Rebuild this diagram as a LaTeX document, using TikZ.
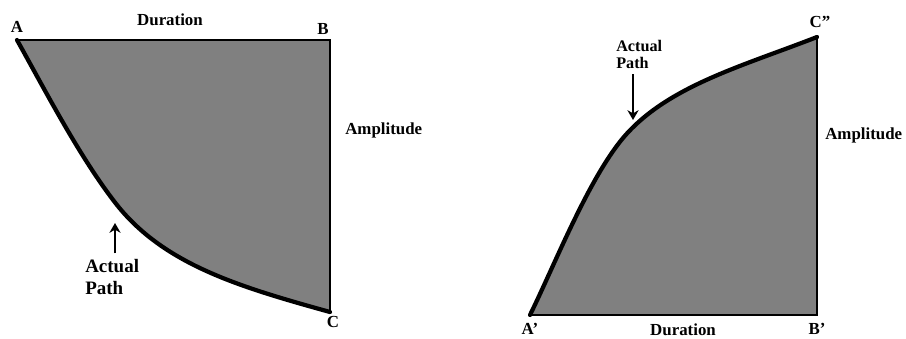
\documentclass[tikz,border=0pt]{standalone}
\usepackage{fontspec}
\setmainfont{Liberation Serif}
\usetikzlibrary{arrows.meta, positioning}

\begin{document}
\begin{tikzpicture}[
        x=0.025cm, y=-0.025cm,
        region/.style={fill=black!50, draw=none},
        sideline/.style={line width=2pt, line join=miter},
        pathline/.style={line width=3pt, line cap=round, line join=round},
        lbl/.style={font=\bfseries\fontsize{12}{13}\selectfont, inner sep=0pt},
        note/.style={font=\bfseries\fontsize{13.5}{15.6}\selectfont, inner sep=0pt, align=left},
        arr/.style={-{Stealth[length=7pt, width=8pt]}, line width=1pt}
    ]
    \useasboundingbox (0,0) rectangle (906,338);

    % Left plot
    \coordinate (A) at (17,40);
    \coordinate (B) at (330,40);
    \coordinate (C) at (330,312);
    \coordinate (M) at (117,205);
    \fill[region] (A) -- (B) -- (C) .. controls (240,287) and (165,265) .. (M)
        .. controls (80,158) and (45,90) .. (A) -- cycle;
    \draw[sideline] (A) -- (B) -- (C);
    \draw[pathline] (A) .. controls (45,90) and (80,158) .. (M)
        .. controls (165,265) and (240,287) .. (C);

    \node[lbl] (labA) at (17,27) {A};
    \node[lbl] (labB) at (323,29) {B};
    \node[lbl] (labC) at (333,322) {C};
    \node[lbl] (dur1) at (170,20) {Duration};
    \node[lbl, anchor=west] (amp1) at (345,130) {Amplitude};
    \node[note, anchor=north west] (act1) at (85,259) {Actual\\Path};
    \coordinate (tip1) at (115,223);
    \draw[arr, shorten <=4pt] (act1.north -| tip1) -- (tip1);

    % Right plot
    \coordinate (A2) at (530,315);
    \coordinate (B2) at (817,315);
    \coordinate (C2) at (817,37);
    \coordinate (M2) at (623,138);
    \fill[region] (A2) -- (B2) -- (C2) .. controls (743,66) and (667,86) .. (M2)
        .. controls (588,180) and (555,264) .. (A2) -- cycle;
    \draw[sideline] (A2) -- (B2) -- (C2);
    \draw[pathline] (A2) .. controls (555,264) and (588,180) .. (M2)
        .. controls (667,86) and (743,66) .. (C2);

    \node[lbl] (labA2) at (530,329) {A'};
    \node[lbl] (labB2) at (817,329) {B'};
    \node[lbl] (labC2) at (820,22) {C"};
    \node[lbl, anchor=north] (dur2) at (683,323) {Duration};
    \node[lbl, anchor=west] (amp2) at (825,135) {Amplitude};
    \node[lbl, align=left, anchor=north west, font=\bfseries\fontsize{11.5}{12}\selectfont] (act2) at (616,40) {Actual\\Path};
    \coordinate (tip2) at (633,120);
    \draw[arr, shorten <=4pt] (act2.south -| tip2) -- (tip2);
\end{tikzpicture}
\end{document}
